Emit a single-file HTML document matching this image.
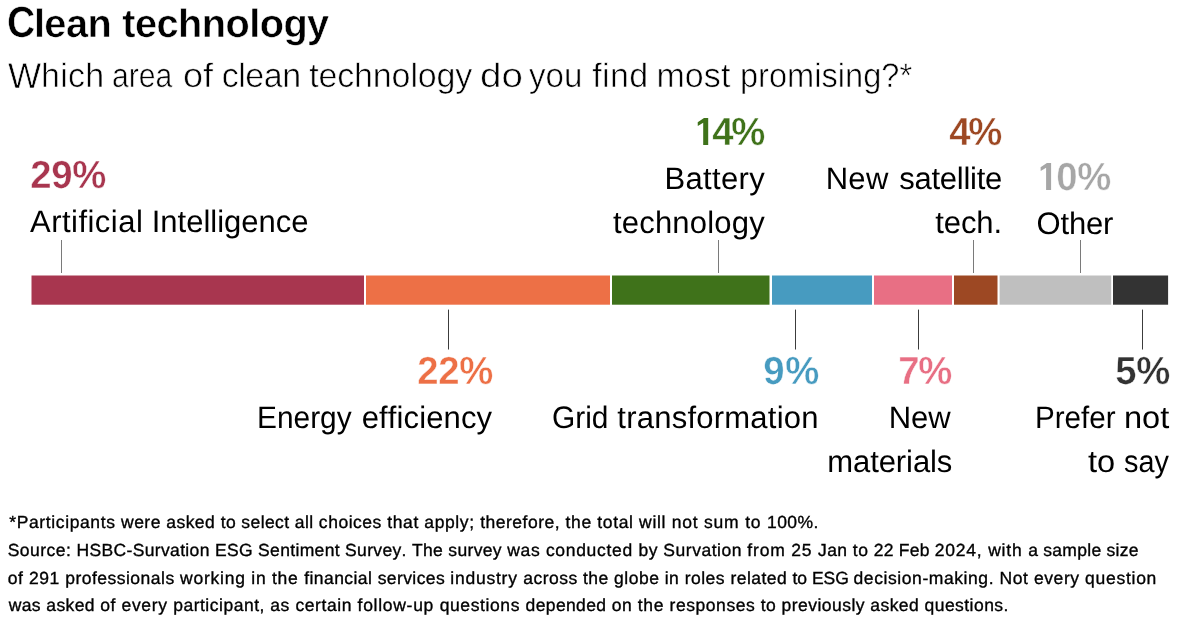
<!DOCTYPE html>
<html><head><meta charset="utf-8"><title>Clean technology</title>
<style>
html,body{margin:0;padding:0;background:#fff;}
body{width:1200px;height:630px;position:relative;overflow:hidden;font-family:"Liberation Sans",sans-serif;color:#000;text-rendering:geometricPrecision;}
.t{position:absolute;white-space:nowrap;line-height:1;margin:0;padding:0;}
.g{position:absolute;white-space:nowrap;line-height:1;font-weight:bold;font-size:39.1px;-webkit-text-stroke:0.45px #fff;}
#w{position:absolute;left:0;top:0;width:1200px;height:630px;will-change:transform;}
svg{position:absolute;left:0;top:0;}
</style></head><body><div id="w">
<svg width="1200" height="630" viewBox="0 0 1200 630">
<rect x="31.5" y="275.5" width="332.5" height="29.2" fill="#a8364f"/>
<rect x="366.0" y="275.5" width="244.0" height="29.2" fill="#ed7046"/>
<rect x="612.0" y="275.5" width="157.5" height="29.2" fill="#3f721a"/>
<rect x="772.0" y="275.5" width="100.0" height="29.2" fill="#479bc0"/>
<rect x="874.0" y="275.5" width="78.0" height="29.2" fill="#e86f84"/>
<rect x="954.0" y="275.5" width="43.5" height="29.2" fill="#9d4823"/>
<rect x="999.6" y="275.5" width="111.6" height="29.2" fill="#bfbfbf"/>
<rect x="1113.0" y="275.5" width="55.1" height="29.2" fill="#333333"/>
<rect x="61" y="240" width="1" height="33" fill="#7a7a7a"/>
<rect x="718" y="240" width="1" height="33" fill="#7a7a7a"/>
<rect x="973" y="240" width="1" height="33" fill="#7a7a7a"/>
<rect x="1080" y="240" width="1" height="33" fill="#7a7a7a"/>
<rect x="448" y="309.6" width="1" height="39.9" fill="#3c3c3c"/>
<rect x="795" y="309.6" width="1" height="39.9" fill="#3c3c3c"/>
<rect x="918" y="309.6" width="1" height="39.9" fill="#3c3c3c"/>
<rect x="1142" y="309.6" width="1" height="39.9" fill="#3c3c3c"/>
<polygon points="704.00,118.00 708.20,118.00 708.20,144.90 703.20,144.90 703.20,122.70 697.80,126.00 697.70,122.30" fill="#3f721a"/>
<polygon points="1046.90,163.00 1051.10,163.00 1051.10,189.90 1046.10,189.90 1046.10,167.70 1040.70,171.00 1040.60,167.30" fill="#a6a6a6"/>
</svg>
<div class="g" style="left:29.86px;top:156.10px;color:#a8364f;transform:scaleX(0.98)">2</div>
<div class="g" style="left:50.80px;top:156.10px;color:#a8364f;transform:scaleX(0.98)">9</div>
<div class="g" style="left:72.40px;top:156.10px;color:#a8364f;transform:scaleX(0.98)">%</div>
<div class="g" style="left:711.94px;top:113.10px;color:#3f721a;transform:scaleX(0.98)">4</div>
<div class="g" style="left:731.35px;top:113.10px;color:#3f721a;transform:scaleX(0.98)">%</div>
<div class="g" style="left:948.94px;top:113.10px;color:#9d4823;transform:scaleX(0.98)">4</div>
<div class="g" style="left:968.30px;top:113.10px;color:#9d4823;transform:scaleX(0.98)">%</div>
<div class="g" style="left:1056.06px;top:158.10px;color:#a6a6a6;transform:scaleX(0.98)">0</div>
<div class="g" style="left:1077.27px;top:158.10px;color:#a6a6a6;transform:scaleX(0.98)">%</div>
<div class="g" style="left:416.78px;top:352.10px;color:#ed7046;transform:scaleX(0.98)">2</div>
<div class="g" style="left:437.93px;top:352.10px;color:#ed7046;transform:scaleX(0.98)">2</div>
<div class="g" style="left:459.20px;top:352.10px;color:#ed7046;transform:scaleX(0.98)">%</div>
<div class="g" style="left:762.62px;top:352.10px;color:#479bc0;transform:scaleX(0.98)">9</div>
<div class="g" style="left:784.55px;top:352.10px;color:#479bc0;transform:scaleX(0.98)">%</div>
<div class="g" style="left:897.75px;top:352.10px;color:#e86f84;transform:scaleX(0.98)">7</div>
<div class="g" style="left:918.40px;top:352.10px;color:#e86f84;transform:scaleX(0.98)">%</div>
<div class="g" style="left:1114.87px;top:352.10px;color:#333333;transform:scaleX(0.98)">5</div>
<div class="g" style="left:1135.50px;top:352.10px;color:#333333;transform:scaleX(0.98)">%</div>
<div class="t" style="top:2.29px;font-size:43.6px;color:#000;font-weight:bold;left:6.75px;letter-spacing:0px;font-kerning:none;-webkit-text-stroke:0.5px #fff;transform:scaleX(0.8945);transform-origin:0 0;">C</div>
<div class="t" style="top:4.59px;font-size:39.7px;color:#000;font-weight:bold;left:33.88px;letter-spacing:-0.535px;font-kerning:none;-webkit-text-stroke:0.5px #fff;">lean</div>
<div class="t" style="top:4.59px;font-size:39.7px;color:#000;font-weight:bold;left:122.27px;letter-spacing:-0.527px;font-kerning:none;-webkit-text-stroke:0.5px #fff;">technology</div>
<div class="t" style="top:57.73px;font-size:36.0px;color:#000;left:7.80px;letter-spacing:0px;font-kerning:none;-webkit-text-stroke:0.6px #fff;transform:scaleX(0.9749);transform-origin:0 0;">W</div>
<div class="t" style="top:59.42px;font-size:34px;color:#000;left:40.99px;letter-spacing:0.248px;font-kerning:none;-webkit-text-stroke:0.6px #fff;">hich</div>
<div class="t" style="top:59.42px;font-size:34px;color:#000;left:112.37px;letter-spacing:0px;font-kerning:none;-webkit-text-stroke:0.6px #fff;transform:scaleX(0.8866);transform-origin:0 0;">area</div>
<div class="t" style="top:59.42px;font-size:34px;color:#000;left:183.13px;letter-spacing:0px;font-kerning:none;-webkit-text-stroke:0.6px #fff;transform:scaleX(1.062);transform-origin:0 0;">of</div>
<div class="t" style="top:59.42px;font-size:34px;color:#000;left:221.81px;letter-spacing:-0.495px;font-kerning:none;-webkit-text-stroke:0.6px #fff;">clean</div>
<div class="t" style="top:59.42px;font-size:34px;color:#000;left:309.14px;letter-spacing:-0.136px;font-kerning:none;-webkit-text-stroke:0.6px #fff;">technology</div>
<div class="t" style="top:59.42px;font-size:34px;color:#000;left:480.03px;letter-spacing:0px;font-kerning:none;-webkit-text-stroke:0.6px #fff;transform:scaleX(1.1341);transform-origin:0 0;">do</div>
<div class="t" style="top:59.42px;font-size:34px;color:#000;left:529.17px;letter-spacing:0px;font-kerning:none;-webkit-text-stroke:0.6px #fff;transform:scaleX(0.9728);transform-origin:0 0;">you</div>
<div class="t" style="top:59.42px;font-size:34px;color:#000;left:592.17px;letter-spacing:0.368px;font-kerning:none;-webkit-text-stroke:0.6px #fff;">find</div>
<div class="t" style="top:59.42px;font-size:34px;color:#000;left:656.39px;letter-spacing:0.093px;font-kerning:none;-webkit-text-stroke:0.6px #fff;">most</div>
<div class="t" style="top:59.42px;font-size:34px;color:#000;left:740.25px;letter-spacing:0px;font-kerning:none;-webkit-text-stroke:0.6px #fff;transform:scaleX(0.9584);transform-origin:0 0;">promising?*</div>
<div class="t" style="top:205.96px;font-size:31px;color:#000;left:30.04px;letter-spacing:0.469px;font-kerning:none;">Artificial</div>
<div class="t" style="top:205.96px;font-size:31px;color:#000;left:151.74px;letter-spacing:-0.008px;font-kerning:none;">Intelligence</div>
<div class="t" id="l14a" style="top:162.96px;font-size:31px;color:#000;letter-spacing:0.329px;right:435.29px;margin-right:-0.329px;">Battery</div>
<div class="t" id="l14b" style="top:206.96px;font-size:31px;color:#000;letter-spacing:0.203px;right:435.29px;margin-right:-0.203px;">technology</div>
<div class="t" style="top:162.96px;font-size:31px;color:#000;left:825.66px;letter-spacing:0.326px;font-kerning:none;">New</div>
<div class="t" style="top:162.96px;font-size:31px;color:#000;left:899.14px;letter-spacing:-0.234px;font-kerning:none;">satellite</div>
<div class="t" id="l4b" style="top:206.96px;font-size:31px;color:#000;letter-spacing:-0.085px;right:197.89px;margin-right:0.085px;">tech.</div>
<div class="t" id="l10" style="top:207.96px;font-size:31px;color:#000;letter-spacing:-0.16px;left:1036.52px;">Other</div>
<div class="t" style="top:401.96px;font-size:31px;color:#000;left:256.95px;letter-spacing:0px;font-kerning:none;transform:scaleX(0.9632);transform-origin:0 0;">Energy</div>
<div class="t" style="top:401.96px;font-size:31px;color:#000;left:361.78px;letter-spacing:0.117px;font-kerning:none;">efficiency</div>
<div class="t" style="top:401.96px;font-size:31px;color:#000;left:551.60px;letter-spacing:0px;font-kerning:none;transform:scaleX(0.9635);transform-origin:0 0;">Grid</div>
<div class="t" style="top:401.96px;font-size:31px;color:#000;left:617.33px;letter-spacing:0.234px;font-kerning:none;">transformation</div>
<div class="t" id="l7a" style="top:401.96px;font-size:31px;color:#000;letter-spacing:-0.05px;right:249.30px;margin-right:0.05px;">New</div>
<div class="t" id="l7b" style="top:445.96px;font-size:31px;color:#000;letter-spacing:-0.101px;right:247.70px;margin-right:0.101px;">materials</div>
<div class="t" style="top:401.96px;font-size:31px;color:#000;left:1035.07px;letter-spacing:0px;font-kerning:none;transform:scaleX(0.955);transform-origin:0 0;">Prefer</div>
<div class="t" style="top:401.96px;font-size:31px;color:#000;left:1124.24px;letter-spacing:0px;font-kerning:none;transform:scaleX(1.0512);transform-origin:0 0;">not</div>
<div class="t" style="top:445.96px;font-size:31px;color:#000;left:1088.01px;letter-spacing:0px;font-kerning:none;transform:scaleX(1.0506);transform-origin:0 0;">to</div>
<div class="t" style="top:445.96px;font-size:31px;color:#000;left:1124.20px;letter-spacing:0px;font-kerning:none;transform:scaleX(0.9299);transform-origin:0 0;">say</div>
<div class="t" style="top:514.39px;font-size:17.5px;color:#000;left:9.32px;letter-spacing:0.615px;font-kerning:none;-webkit-text-stroke:0.35px #000;">*Participants</div>
<div class="t" style="top:514.39px;font-size:17.5px;color:#000;left:121.03px;letter-spacing:0.478px;font-kerning:none;-webkit-text-stroke:0.35px #000;">were asked</div>
<div class="t" style="top:514.39px;font-size:17.5px;color:#000;left:220.64px;letter-spacing:0.415px;font-kerning:none;-webkit-text-stroke:0.35px #000;">to select all</div>
<div class="t" style="top:514.39px;font-size:17.5px;color:#000;left:318.86px;letter-spacing:0.523px;font-kerning:none;-webkit-text-stroke:0.35px #000;">choices</div>
<div class="t" style="top:514.39px;font-size:17.5px;color:#000;left:387.24px;letter-spacing:0.607px;font-kerning:none;-webkit-text-stroke:0.35px #000;">that apply;</div>
<div class="t" style="top:514.39px;font-size:17.5px;color:#000;left:480.14px;letter-spacing:0.512px;font-kerning:none;-webkit-text-stroke:0.35px #000;">therefore,</div>
<div class="t" style="top:514.39px;font-size:17.5px;color:#000;left:565.54px;letter-spacing:0.636px;font-kerning:none;-webkit-text-stroke:0.35px #000;">the total</div>
<div class="t" style="top:514.39px;font-size:17.5px;color:#000;left:639.03px;letter-spacing:0.726px;font-kerning:none;-webkit-text-stroke:0.35px #000;">will not</div>
<div class="t" style="top:514.39px;font-size:17.5px;color:#000;left:703.91px;letter-spacing:0.825px;font-kerning:none;-webkit-text-stroke:0.35px #000;">sum to</div>
<div class="t" style="top:514.39px;font-size:17.5px;color:#000;left:767.07px;letter-spacing:0.403px;font-kerning:none;-webkit-text-stroke:0.35px #000;">100%.</div>
<div class="t" style="top:542.39px;font-size:17.5px;color:#000;left:7.71px;letter-spacing:0.461px;font-kerning:none;-webkit-text-stroke:0.35px #000;">Source:</div>
<div class="t" style="top:542.39px;font-size:17.5px;color:#000;left:76.56px;letter-spacing:0.344px;font-kerning:none;-webkit-text-stroke:0.35px #000;">HSBC-Survation</div>
<div class="t" style="top:542.39px;font-size:17.5px;color:#000;left:214.96px;letter-spacing:0.333px;font-kerning:none;-webkit-text-stroke:0.35px #000;">ESG Sentiment</div>
<div class="t" style="top:542.39px;font-size:17.5px;color:#000;left:345.11px;letter-spacing:0.339px;font-kerning:none;-webkit-text-stroke:0.35px #000;">Survey.</div>
<div class="t" style="top:542.39px;font-size:17.5px;color:#000;left:412.01px;letter-spacing:0.336px;font-kerning:none;-webkit-text-stroke:0.35px #000;">The survey</div>
<div class="t" style="top:542.39px;font-size:17.5px;color:#000;left:507.13px;letter-spacing:0.696px;font-kerning:none;-webkit-text-stroke:0.35px #000;">was conducted</div>
<div class="t" style="top:542.39px;font-size:17.5px;color:#000;left:638.47px;letter-spacing:0.519px;font-kerning:none;-webkit-text-stroke:0.35px #000;">by Survation</div>
<div class="t" style="top:542.39px;font-size:17.5px;color:#000;left:747.35px;letter-spacing:0.798px;font-kerning:none;-webkit-text-stroke:0.35px #000;">from 25</div>
<div class="t" style="top:542.39px;font-size:17.5px;color:#000;left:817.93px;letter-spacing:0.466px;font-kerning:none;-webkit-text-stroke:0.35px #000;">Jan to</div>
<div class="t" style="top:542.39px;font-size:17.5px;color:#000;left:873.72px;letter-spacing:0.237px;font-kerning:none;-webkit-text-stroke:0.35px #000;">22 Feb</div>
<div class="t" style="top:542.39px;font-size:17.5px;color:#000;left:934.72px;letter-spacing:0.8px;font-kerning:none;-webkit-text-stroke:0.35px #000;">2024, with</div>
<div class="t" style="top:542.39px;font-size:17.5px;color:#000;left:1028.16px;letter-spacing:0.278px;font-kerning:none;-webkit-text-stroke:0.35px #000;">a sample size</div>
<div class="t" style="top:570.39px;font-size:17.5px;color:#000;left:7.77px;letter-spacing:0.556px;font-kerning:none;-webkit-text-stroke:0.35px #000;">of 291</div>
<div class="t" style="top:570.39px;font-size:17.5px;color:#000;left:65.17px;letter-spacing:0.491px;font-kerning:none;-webkit-text-stroke:0.35px #000;">professionals</div>
<div class="t" style="top:570.39px;font-size:17.5px;color:#000;left:180.03px;letter-spacing:0.768px;font-kerning:none;-webkit-text-stroke:0.35px #000;">working</div>
<div class="t" style="top:570.39px;font-size:17.5px;color:#000;left:251.33px;letter-spacing:0.736px;font-kerning:none;-webkit-text-stroke:0.35px #000;">in the</div>
<div class="t" style="top:570.39px;font-size:17.5px;color:#000;left:304.15px;letter-spacing:0.449px;font-kerning:none;-webkit-text-stroke:0.35px #000;">financial</div>
<div class="t" style="top:570.39px;font-size:17.5px;color:#000;left:377.71px;letter-spacing:0.397px;font-kerning:none;-webkit-text-stroke:0.35px #000;">services</div>
<div class="t" style="top:570.39px;font-size:17.5px;color:#000;left:450.33px;letter-spacing:0.754px;font-kerning:none;-webkit-text-stroke:0.35px #000;">industry</div>
<div class="t" style="top:570.39px;font-size:17.5px;color:#000;left:523.26px;letter-spacing:0.468px;font-kerning:none;-webkit-text-stroke:0.35px #000;">across</div>
<div class="t" style="top:570.39px;font-size:17.5px;color:#000;left:582.94px;letter-spacing:0.492px;font-kerning:none;-webkit-text-stroke:0.35px #000;">the globe in roles</div>
<div class="t" style="top:570.39px;font-size:17.5px;color:#000;left:730.44px;letter-spacing:0.466px;font-kerning:none;-webkit-text-stroke:0.35px #000;">related</div>
<div class="t" style="top:570.39px;font-size:17.5px;color:#000;left:792.54px;letter-spacing:-0.035px;font-kerning:none;-webkit-text-stroke:0.35px #000;">to ESG</div>
<div class="t" style="top:570.39px;font-size:17.5px;color:#000;left:853.57px;letter-spacing:0.578px;font-kerning:none;-webkit-text-stroke:0.35px #000;">decision-making.</div>
<div class="t" style="top:570.39px;font-size:17.5px;color:#000;left:999.56px;letter-spacing:0.575px;font-kerning:none;-webkit-text-stroke:0.35px #000;">Not every</div>
<div class="t" style="top:570.39px;font-size:17.5px;color:#000;left:1085.07px;letter-spacing:0.73px;font-kerning:none;-webkit-text-stroke:0.35px #000;">question</div>
<div class="t" style="top:597.39px;font-size:17.5px;color:#000;left:8.73px;letter-spacing:0.39px;font-kerning:none;-webkit-text-stroke:0.35px #000;">was asked</div>
<div class="t" style="top:597.39px;font-size:17.5px;color:#000;left:100.17px;letter-spacing:0.655px;font-kerning:none;-webkit-text-stroke:0.35px #000;">of every</div>
<div class="t" style="top:597.39px;font-size:17.5px;color:#000;left:173.17px;letter-spacing:0.509px;font-kerning:none;-webkit-text-stroke:0.35px #000;">participant,</div>
<div class="t" style="top:597.39px;font-size:17.5px;color:#000;left:270.26px;letter-spacing:0.597px;font-kerning:none;-webkit-text-stroke:0.35px #000;">as certain</div>
<div class="t" style="top:597.39px;font-size:17.5px;color:#000;left:357.55px;letter-spacing:0.722px;font-kerning:none;-webkit-text-stroke:0.35px #000;">follow-up</div>
<div class="t" style="top:597.39px;font-size:17.5px;color:#000;left:439.67px;letter-spacing:0.612px;font-kerning:none;-webkit-text-stroke:0.35px #000;">questions</div>
<div class="t" style="top:597.39px;font-size:17.5px;color:#000;left:525.57px;letter-spacing:0.375px;font-kerning:none;-webkit-text-stroke:0.35px #000;">depended</div>
<div class="t" style="top:597.39px;font-size:17.5px;color:#000;left:611.67px;letter-spacing:0.622px;font-kerning:none;-webkit-text-stroke:0.35px #000;">on the</div>
<div class="t" style="top:597.39px;font-size:17.5px;color:#000;left:669.54px;letter-spacing:0.559px;font-kerning:none;-webkit-text-stroke:0.35px #000;">responses</div>
<div class="t" style="top:597.39px;font-size:17.5px;color:#000;left:760.74px;letter-spacing:0.458px;font-kerning:none;-webkit-text-stroke:0.35px #000;">to previously</div>
<div class="t" style="top:597.39px;font-size:17.5px;color:#000;left:870.26px;letter-spacing:0.454px;font-kerning:none;-webkit-text-stroke:0.35px #000;">asked questions.</div>
</div></body></html>
